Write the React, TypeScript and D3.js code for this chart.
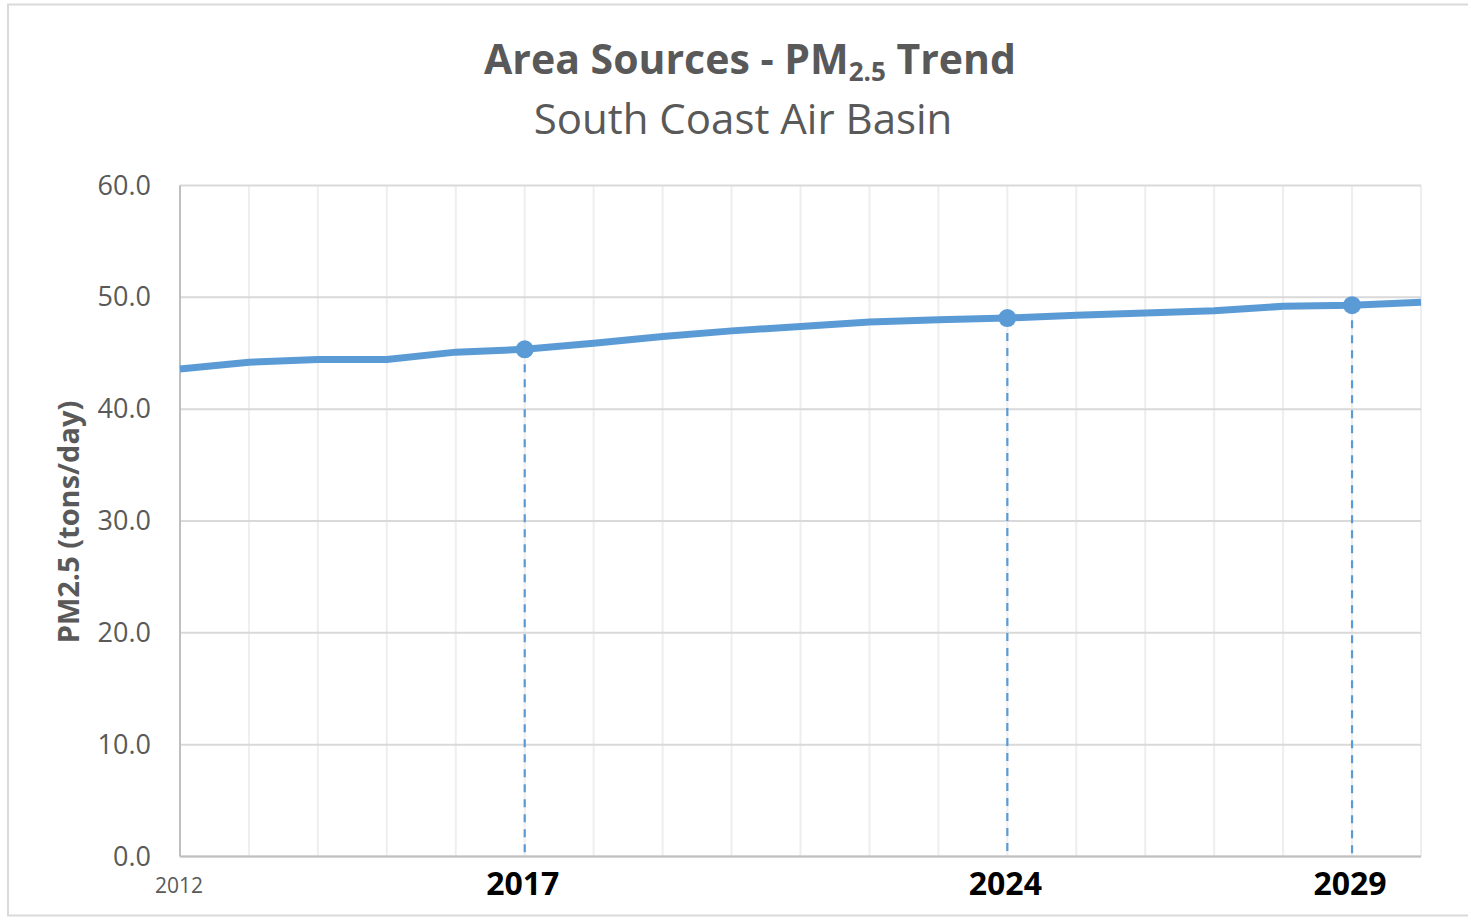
import React from "react";
import * as d3 from "d3";

const years = [2012, 2013, 2014, 2015, 2016, 2017, 2018, 2019, 2020, 2021, 2022, 2023, 2024, 2025, 2026, 2027, 2028, 2029, 2030];
const pm25 = [43.6, 44.2, 44.45, 44.45, 45.1, 45.35, 45.9, 46.5, 47.0, 47.4, 47.8, 48.0, 48.15, 48.4, 48.6, 48.8, 49.2, 49.3, 49.55];
const milestoneYears = [2017, 2024, 2029];
const yTicks = [0, 10, 20, 30, 40, 50, 60];

const W = 1468;
const H = 918;
const FONT = "'Open Sans', sans-serif";
const BLUE = "#5B9BD5";
const GRAY_TEXT = "#595959";

export default function App() {
  const x = d3.scaleLinear().domain([2012, 2030]).range([180, 1421]);
  const y = d3.scaleLinear().domain([0, 60]).range([856.5, 185.5]);
  const data = years.map((yr, i) => ({ yr, v: pm25[i] }));
  const line = d3
    .line<{ yr: number; v: number }>()
    .x((d) => x(d.yr))
    .y((d) => y(d.v));

  return (
    <svg
      width={W}
      height={H}
      style={{ position: "absolute", left: 0, top: 0, background: "#fff" }}
      fontFamily={FONT}
    >
      <rect x={8} y={4.5} width={1480} height={911} fill="#fff" stroke="#d9d9d9" strokeWidth={2} />

      {/* title */}
      <text x={750} y={74} textAnchor="middle" fontSize={41} fontWeight="bold" fill={GRAY_TEXT}>
        Area Sources - PM
        <tspan fontSize={26} dy={7}>2.5</tspan>
        <tspan dy={-7}> Trend</tspan>
      </text>
      <text x={743} y={134} textAnchor="middle" fontSize={42} fill={GRAY_TEXT}>
        South Coast Air Basin
      </text>

      {/* vertical gridlines */}
      {years.map((yr) => (
        <line key={"v" + yr} x1={x(yr)} x2={x(yr)} y1={y(60)} y2={y(0)} stroke="#eeeeee" strokeWidth={2} />
      ))}
      {/* horizontal gridlines */}
      {yTicks.map((t) => (
        <line key={"h" + t} x1={x(2012)} x2={x(2030)} y1={y(t)} y2={y(t)} stroke="#d9d9d9" strokeWidth={2} />
      ))}
      {/* axes */}
      <line x1={x(2012)} x2={x(2012)} y1={y(60)} y2={y(0)} stroke="#bfbfbf" strokeWidth={2} />
      <line x1={x(2012)} x2={x(2030)} y1={y(0)} y2={y(0)} stroke="#bfbfbf" strokeWidth={2} />

      {/* y tick labels */}
      {yTicks.map((t) => (
        <text key={"yl" + t} x={151} y={y(t) + 9} textAnchor="end" fontSize={27} fill={GRAY_TEXT}>
          {t.toFixed(1)}
        </text>
      ))}

      {/* y axis title */}
      <text
        transform={`translate(79, ${y(30) + 1}) rotate(-90)`}
        textAnchor="middle"
        fontSize={29}
        fontWeight="bold"
        fill={GRAY_TEXT}
      >
        PM2.5 (tons/day)
      </text>

      {/* dashed drop lines */}
      {milestoneYears.map((yr) => {
        const v = pm25[years.indexOf(yr)];
        return (
          <line
            key={"d" + yr}
            x1={x(yr)}
            x2={x(yr)}
            y1={y(v)}
            y2={y(0)}
            stroke={BLUE}
            strokeWidth={2.2}
            strokeDasharray="8,7"
          />
        );
      })}

      {/* trend line */}
      <path d={line(data) || ""} fill="none" stroke={BLUE} strokeWidth={7} strokeLinejoin="round" />

      {/* markers */}
      {milestoneYears.map((yr) => {
        const v = pm25[years.indexOf(yr)];
        return <circle key={"m" + yr} cx={x(yr)} cy={y(v)} r={9} fill={BLUE} />;
      })}

      {/* x labels */}
      <text x={x(2012) - 1} y={893} textAnchor="middle" fontSize={21} fill={GRAY_TEXT}>
        2012
      </text>
      {milestoneYears.map((yr) => (
        <text key={"xl" + yr} x={x(yr) - 2} y={895} textAnchor="middle" fontSize={32} fontWeight="bold" fill="#000">
          {yr}
        </text>
      ))}
    </svg>
  );
}
